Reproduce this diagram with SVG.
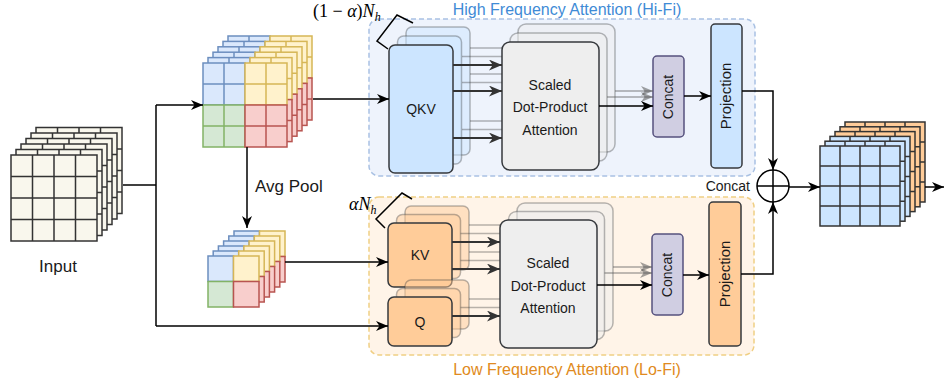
<svg xmlns="http://www.w3.org/2000/svg" xmlns:xlink="http://www.w3.org/1999/xlink" width="944" height="381" viewBox="0 0 944 381">
<style>
text{font-family:"Liberation Sans",Arial,sans-serif;fill:#1a1a1a}
.t14{font-size:14px}
.t17{font-size:17px}
.t15{font-size:15px}
.math{font-family:"Liberation Serif","DejaVu Serif",serif;font-size:18px;fill:#000}
.box{stroke:#36393d;stroke-width:1.5}
.bk{stroke:#36393d;stroke-opacity:0.35;stroke-width:1.5}
.blue{fill:#cce5ff}
.orange{fill:#ffcc99}
.gray{fill:#eeeeee}
.purple{fill:#d0cee2;stroke:#56517e;stroke-width:1.5}
.ln{fill:none;stroke:#000;stroke-width:1.5}
.dk{fill:none;stroke:#333;stroke-width:2}
.gl{fill:none;stroke:#333;stroke-opacity:0.35;stroke-width:1.5}
.ggl{fill:none;stroke:#555;stroke-opacity:0.5;stroke-width:1.5}
.grid{stroke:#333;stroke-width:1.5}
</style>
<defs>
<marker id="arr" viewBox="0 0 12 10" markerWidth="12" markerHeight="10" refX="12" refY="5" orient="auto" markerUnits="userSpaceOnUse"><path d="M0,0 L12,5 L0,10 L3.5,5 z" fill="#000"/></marker>
<marker id="arrd" viewBox="0 0 12 10" markerWidth="13" markerHeight="11" refX="12" refY="5" orient="auto" markerUnits="userSpaceOnUse"><path d="M0,0 L12,5 L0,10 L3.5,5 z" fill="#333"/></marker>
<marker id="arrg" viewBox="0 0 12 10" markerWidth="12" markerHeight="10" refX="12" refY="5" orient="auto" markerUnits="userSpaceOnUse"><path d="M0,0 L12,5 L0,10 L3.5,5 z" fill="#555" fill-opacity="0.55"/></marker>
<g id="inL">
<rect x="0" y="0" width="86" height="86" fill="#f9f7ed" class="grid"/>
<path d="M21.5,0V86M43,0V86M64.5,0V86M0,21.5H86M0,43H86M0,64.5H86" class="grid" fill="none"/>
</g>
<g id="cL" stroke-width="1.5">
<rect x="0" y="0" width="42" height="42" fill="#dae8fc" stroke="#6c8ebf"/>
<path d="M21,0V42M0,21H42" stroke="#6c8ebf"/>
<rect x="42" y="0" width="42" height="42" fill="#fff2cc" stroke="#d6b656"/>
<path d="M63,0V42M42,21H84" stroke="#d6b656"/>
<rect x="0" y="42" width="42" height="42" fill="#d5e8d4" stroke="#82b366"/>
<path d="M21,42V84M0,63H42" stroke="#82b366"/>
<rect x="42" y="42" width="42" height="42" fill="#f8cecc" stroke="#b85450"/>
<path d="M63,42V84M42,63H84" stroke="#b85450"/>
</g>
<g id="sL" stroke-width="1.5">
<rect x="0" y="0" width="25.5" height="25.5" fill="#dae8fc" stroke="#6c8ebf"/>
<rect x="25.5" y="0" width="25.5" height="25.5" fill="#fff2cc" stroke="#d6b656"/>
<rect x="0" y="25.5" width="25.5" height="25.5" fill="#d5e8d4" stroke="#82b366"/>
<rect x="25.5" y="25.5" width="25.5" height="25.5" fill="#f8cecc" stroke="#b85450"/>
</g>
<path id="oG" d="M20,0V80M40,0V80M60,0V80M0,20H80M0,40H80M0,60H80" class="grid" fill="none"/>
<g id="oB"><rect x="0" y="0" width="80" height="80" fill="#cce5ff" class="grid"/><use xlink:href="#oG"/></g>
<g id="oO"><rect x="0" y="0" width="80" height="80" fill="#ffcc99" class="grid"/><use xlink:href="#oG"/></g>
</defs>

<g id="hifi-panel">
<rect x="369" y="19" width="386" height="157" rx="10" fill="#eef3fc" stroke="#a9c1e3" stroke-width="1.5" stroke-dasharray="5 3"/>
<text x="567" y="15" style="font-size:16px;fill:#3f8bd6" text-anchor="middle">High Frequency Attention (Hi-Fi)</text>
</g>
<g id="lofi-panel">
<rect x="369" y="197" width="385" height="158" rx="10" fill="#fff4e8" stroke="#f0cf84" stroke-width="1.5" stroke-dasharray="5 3"/>
<text x="567" y="375" style="font-size:16px;fill:#e08a20" text-anchor="middle">Low Frequency Attention (Lo-Fi)</text>
</g>

<g id="input">
<use xlink:href="#inL" transform="translate(36,127.5)"/>
<use xlink:href="#inL" transform="translate(31,133)"/>
<use xlink:href="#inL" transform="translate(26,138.5)"/>
<use xlink:href="#inL" transform="translate(21,144)"/>
<use xlink:href="#inL" transform="translate(16,149.5)"/>
<use xlink:href="#inL" transform="translate(11,155)"/>
<text x="58" y="272" class="t17" text-anchor="middle">Input</text>
</g>

<g id="split-features">
<use xlink:href="#cL" transform="translate(228,36)"/>
<use xlink:href="#cL" transform="translate(223,41.4)"/>
<use xlink:href="#cL" transform="translate(218,46.8)"/>
<use xlink:href="#cL" transform="translate(213,52.2)"/>
<use xlink:href="#cL" transform="translate(208,57.6)"/>
<use xlink:href="#cL" transform="translate(203,63)"/>
</g>

<g id="pooled-features">
<use xlink:href="#sL" transform="translate(234,231)"/>
<use xlink:href="#sL" transform="translate(228.8,236)"/>
<use xlink:href="#sL" transform="translate(223.6,241)"/>
<use xlink:href="#sL" transform="translate(218.4,246)"/>
<use xlink:href="#sL" transform="translate(213.2,251)"/>
<use xlink:href="#sL" transform="translate(208,256)"/>
</g>

<g id="qkv">
<rect x="406" y="27" width="64" height="128" rx="6" class="blue bk" fill-opacity="0.5"/>
<rect x="397.5" y="36" width="64" height="128" rx="6" class="blue bk" fill-opacity="0.5"/>
<rect x="389" y="45" width="64" height="128" rx="6" class="blue box"/>
<text x="421" y="114" class="t14" text-anchor="middle">QKV</text>
</g>

<g id="sdpa-hi">
<rect x="518" y="24" width="97" height="128" rx="8" class="gray bk" fill-opacity="0.5"/>
<rect x="510" y="33" width="97" height="128" rx="8" class="gray bk" fill-opacity="0.5"/>
<rect x="502" y="42" width="97" height="128" rx="8" class="gray box"/>
<text x="550" y="90" class="t14" text-anchor="middle">Scaled</text>
<text x="550" y="112" class="t14" text-anchor="middle">Dot-Product</text>
<text x="550" y="135" class="t14" text-anchor="middle">Attention</text>
</g>

<g id="concat-hi">
<rect x="653" y="56" width="31" height="81" rx="4" class="purple"/>
<text transform="translate(673,97) rotate(-90)" class="t14" text-anchor="middle">Concat</text>
</g>

<g id="proj-hi">
<rect x="711" y="24" width="31" height="144" rx="4" class="blue box"/>
<text transform="translate(731,96) rotate(-90)" class="t15" text-anchor="middle">Projection</text>
</g>

<g id="kv">
<rect x="405" y="206" width="64" height="64" rx="6" class="orange bk" fill-opacity="0.5"/>
<rect x="396.5" y="214.5" width="64" height="64" rx="6" class="orange bk" fill-opacity="0.5"/>
<rect x="388" y="223" width="64" height="64" rx="6" class="orange box"/>
<text x="420" y="260" class="t14" text-anchor="middle">KV</text>
</g>

<g id="q">
<rect x="405" y="280" width="64" height="49" rx="6" class="orange bk" fill-opacity="0.5"/>
<rect x="396.5" y="288.5" width="64" height="49" rx="6" class="orange bk" fill-opacity="0.5"/>
<rect x="388" y="297" width="64" height="49" rx="6" class="orange box"/>
<text x="420" y="327" class="t14" text-anchor="middle">Q</text>
</g>

<g id="sdpa-lo">
<rect x="517" y="203" width="96" height="128" rx="8" class="gray bk" fill-opacity="0.5"/>
<rect x="508.5" y="211.5" width="96" height="128" rx="8" class="gray bk" fill-opacity="0.5"/>
<rect x="500" y="220" width="97" height="128" rx="8" class="gray box"/>
<text x="548" y="268" class="t14" text-anchor="middle">Scaled</text>
<text x="548" y="291" class="t14" text-anchor="middle">Dot-Product</text>
<text x="548" y="313" class="t14" text-anchor="middle">Attention</text>
</g>

<g id="concat-lo">
<rect x="652" y="234" width="31" height="81" rx="4" class="purple"/>
<text transform="translate(672,275) rotate(-90)" class="t14" text-anchor="middle">Concat</text>
</g>

<g id="proj-lo">
<rect x="709" y="202" width="32" height="144" rx="4" class="orange box"/>
<text transform="translate(730,274) rotate(-90)" class="t15" text-anchor="middle">Projection</text>
</g>

<g id="concat-op">
<circle cx="773" cy="186" r="16" fill="#fff" stroke="#000" stroke-width="1.5"/>
<path d="M757,186H789M773,170V202" class="ln"/>
<text x="750" y="191" class="t14" text-anchor="end">Concat</text>
</g>

<g id="output">
<use xlink:href="#oO" transform="translate(845,122)"/>
<use xlink:href="#oO" transform="translate(840,126.8)"/>
<use xlink:href="#oO" transform="translate(835,131.6)"/>
<use xlink:href="#oB" transform="translate(830,136.4)"/>
<use xlink:href="#oB" transform="translate(825,141.2)"/>
<use xlink:href="#oB" transform="translate(820,146)"/>
</g>

<g id="labels">
<text x="313" y="17" class="math">(1 − <tspan font-style="italic">α</tspan>)<tspan font-style="italic">N</tspan><tspan font-style="italic" font-size="12" dy="4">h</tspan></text>
<text x="349" y="210" class="math"><tspan font-style="italic">αN</tspan><tspan font-style="italic" font-size="12" dy="4">h</tspan></text>
<polyline points="388,49 377,41 397,15 413,23" class="ln"/>
<polyline points="385,228 376,219 402,193 412,199" class="ln"/>
<text x="255" y="192" class="t17">Avg Pool</text>
</g>

<g id="connectors">
<path d="M123,185H156" class="ln"/>
<path d="M156,105V326" class="ln"/>
<path d="M156,105H203" class="ln" marker-end="url(#arr)"/>
<path d="M156,326H388" class="ln" marker-end="url(#arr)"/>
<path d="M313,99H389" class="ln" marker-end="url(#arr)"/>
<path d="M247,147V228" class="ln" marker-end="url(#arr)"/>
<path d="M285,262H388" class="ln" marker-end="url(#arr)"/>
<path d="M462,56.5H502M470,48H502M462,82.5H502M470,74H502M462,129.5H502M470,121H502" class="gl"/>
<path d="M453,65H502" class="dk" marker-end="url(#arrd)"/>
<path d="M453,91H502" class="dk" marker-end="url(#arrd)"/>
<path d="M453,138H502" class="dk" marker-end="url(#arrd)"/>
<path d="M607,97H653" class="ggl" marker-end="url(#arrg)"/>
<path d="M615,91H653" class="ggl" marker-end="url(#arrg)"/>
<path d="M599,106H653" class="ln" marker-end="url(#arr)"/>
<path d="M684,96H711" class="ln" marker-end="url(#arr)"/>
<path d="M460.5,233.5H500M469,225H500M460.5,260.5H500M469,252H500M460.5,307.5H500M469,299H500" class="gl"/>
<path d="M452,242H500" class="dk" marker-end="url(#arrd)"/>
<path d="M452,269H500" class="dk" marker-end="url(#arrd)"/>
<path d="M452,316H500" class="dk" marker-end="url(#arrd)"/>
<path d="M604.5,273H652" class="ggl" marker-end="url(#arrg)"/>
<path d="M613,267H652" class="ggl" marker-end="url(#arrg)"/>
<path d="M597,285H652" class="ln" marker-end="url(#arr)"/>
<path d="M683,275H709" class="ln" marker-end="url(#arr)"/>
<path d="M742,91H773V170" class="ln" marker-end="url(#arr)"/>
<path d="M741,274H773V202" class="ln" marker-end="url(#arr)"/>
<path d="M789,187H820" class="ln" marker-end="url(#arr)"/>
<path d="M925,187H944" class="ln" marker-end="url(#arr)"/>
</g>
</svg>
